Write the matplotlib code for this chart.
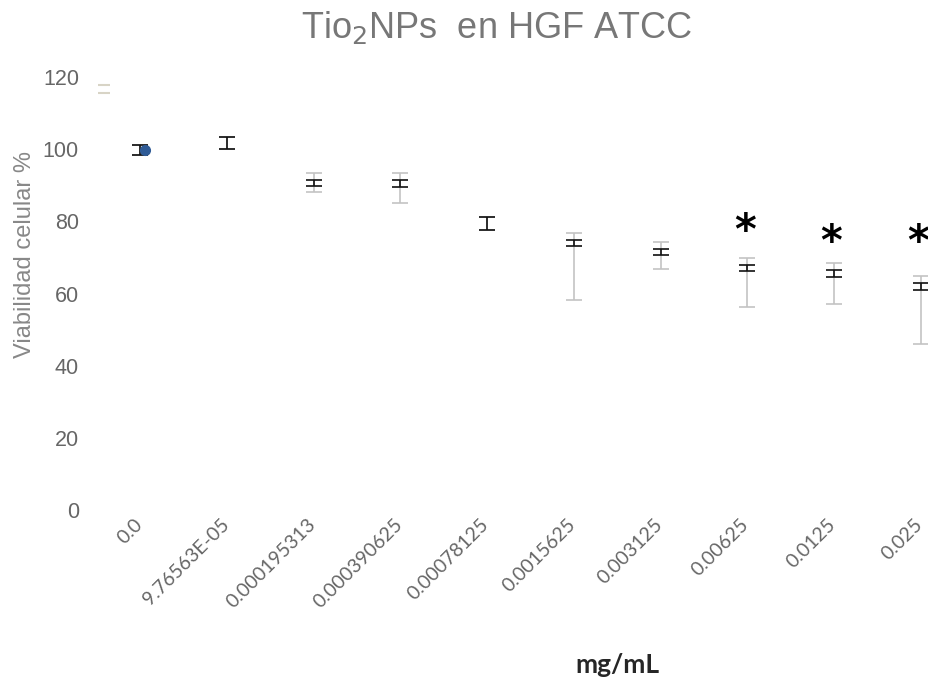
import matplotlib
matplotlib.use("Agg")
import matplotlib.pyplot as plt
from matplotlib.transforms import ScaledTranslation

plt.rcParams['font.family'] = ['Liberation Sans', 'DejaVu Sans']

# concentrations (mg/mL), shown as category labels
conc_labels = ["0.0", "9.76563E-05", "0.000195313", "0.000390625", "0.00078125",
               "0.0015625", "0.003125", "0.00625", "0.0125", "0.025"]

# mean viability (%) with SEM (black bars)
viab_mean = [99.8, 101.7, 90.6, 90.5, 79.4, 74.0, 71.5, 67.0, 65.6, 61.9]
viab_sem = [1.4, 1.7, 0.9, 0.9, 1.85, 0.8, 0.85, 0.9, 0.95, 0.9]

# grey bars (low / high ends)
grey_low = [98.4, 100.0, 88.0, 85.0, 77.6, 58.2, 66.7, 56.2, 57.1, 45.9]
grey_high = [101.2, 103.4, 93.3, 93.3, 81.2, 76.7, 74.2, 69.7, 68.4, 64.8]

# significance marks
signif_idx = [7, 8, 9]
signif_y = [77.0, 74.0, 74.0]

# stray tick near the top-left corner
stray_x = [-0.42]
stray_y = [116.8]
stray_err = [1.1]

fig = plt.figure(figsize=(9.29, 6.86), dpi=100)
ax = fig.add_axes([97 / 929, 1 - 510 / 686, 867 / 929, 433 / 686])

x = list(range(len(conc_labels)))

g_lo = [m - l for m, l in zip(viab_mean, grey_low)]
g_hi = [h - m for m, h in zip(viab_mean, grey_high)]
ax.errorbar(x, viab_mean, yerr=[g_lo, g_hi], fmt='none', ecolor='#c3c3c3',
            elinewidth=1.2, capsize=6, capthick=1.2)
ax.errorbar(x, viab_mean, yerr=viab_sem, fmt='none', ecolor='#111111',
            elinewidth=1.2, capsize=6, capthick=1.2)
ax.plot([x[0] + 0.05], [viab_mean[0]], 'o', color='#2f5b96', markersize=7)

ax.errorbar(stray_x, stray_y, yerr=stray_err, fmt='none', ecolor='#d8d4c6',
            elinewidth=0, capsize=4, capthick=1.5)

for i, yv in zip(signif_idx, signif_y):
    ax.text(i - 0.03, yv, "*", fontsize=30, fontweight='bold', ha='center', va='center',
            color='black', family='DejaVu Sans')

ax.set_xlim(-0.5, 9.5)
ax.set_ylim(0, 120)
ax.set_yticks(range(0, 121, 20))
ax.tick_params(axis='y', length=0, pad=13, labelsize=15.5, labelcolor='#666666')
ax.set_xticks(x)
ax.set_xticklabels(conc_labels, rotation=45, ha='right', rotation_mode='anchor',
                   fontsize=14, color='#666666', family=['Lato', 'DejaVu Sans'])
ax.tick_params(axis='x', length=0, pad=4)
shift = ScaledTranslation(-7 / 100, 0, fig.dpi_scale_trans)
for lab in ax.get_xticklabels():
    lab.set_transform(lab.get_transform() + shift)
for s in ax.spines.values():
    s.set_visible(False)

fig.text(497 / 929, 1 - 28 / 686, r"Tio$_2$NPs  en HGF ATCC", ha='center', va='center',
         fontsize=26, color='#777777')
fig.text(25 / 929, 1 - 255 / 686, "Viabilidad celular %", rotation=90, ha='center',
         va='center', fontsize=17, color='#888888')
fig.text(617 / 929, 1 - 665 / 686, "mg/mL", ha='center', va='center', fontsize=19,
         fontweight='bold', color='#262626', family=['Lato', 'DejaVu Sans'])

fig.savefig("out.png", dpi=100)
